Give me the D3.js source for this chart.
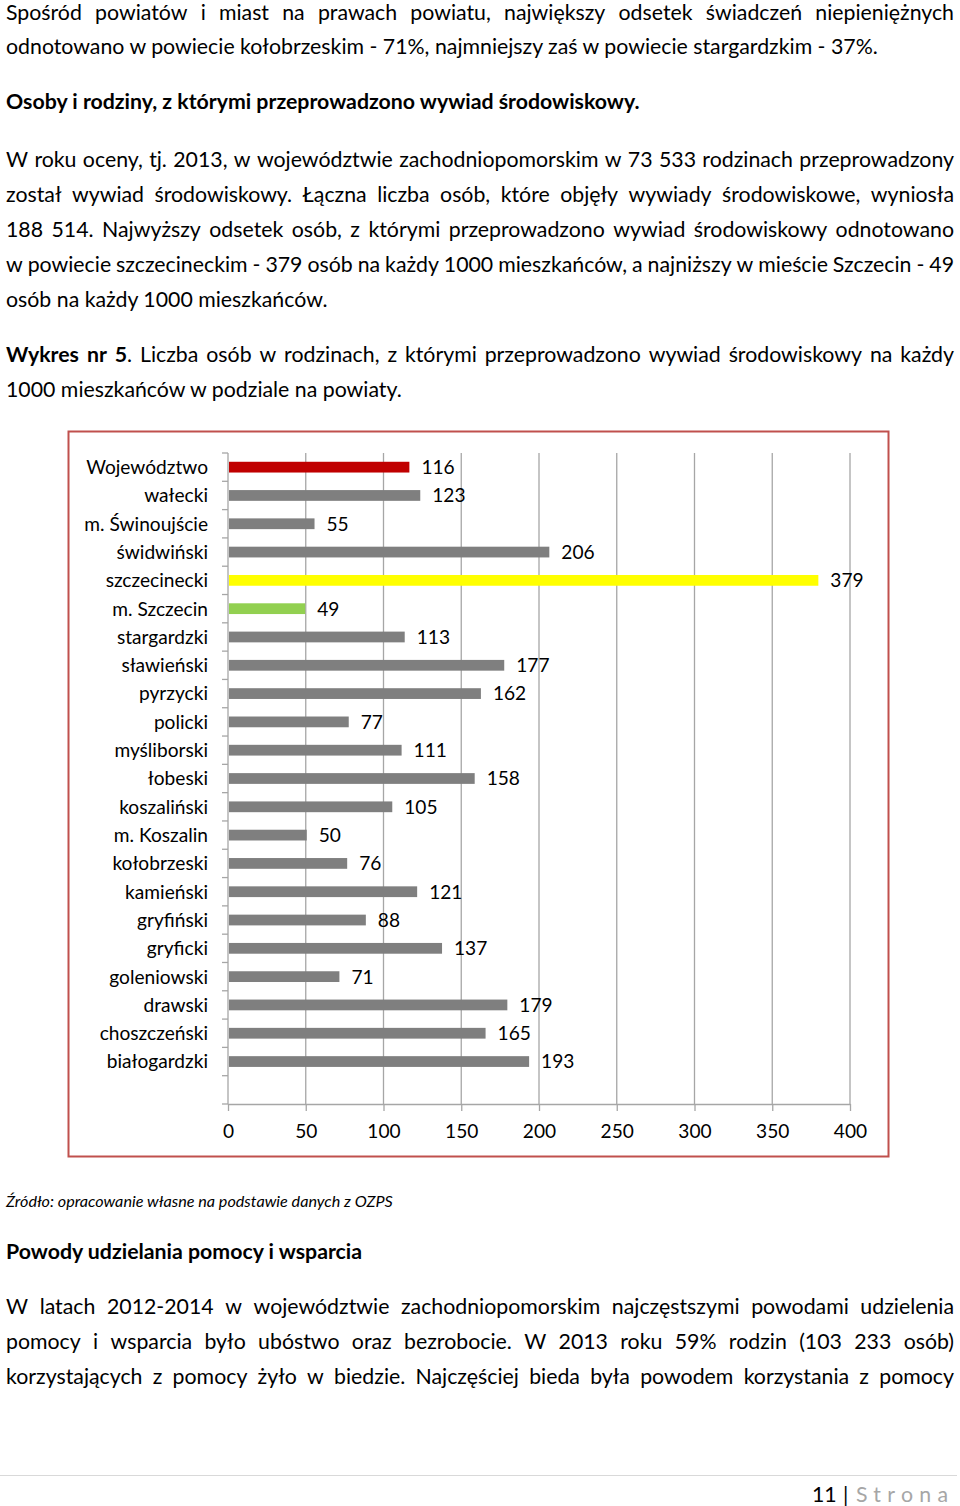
<!DOCTYPE html>
<html><head><meta charset="utf-8">
<script src="https://cdn.jsdelivr.net/npm/d3@7"></script>
<style>html,body{margin:0;padding:0;background:#fff}svg{display:block}</style>
</head><body>
<script>
// ---------- chart data ----------
const categories = ["Województwo","wałecki","m. Świnoujście","świdwiński","szczecinecki","m. Szczecin","stargardzki","sławieński","pyrzycki","policki","myśliborski","łobeski","koszaliński","m. Koszalin","kołobrzeski","kamieński","gryfiński","gryficki","goleniowski","drawski","choszczeński","białogardzki"];
const values = [116,123,55,206,379,49,113,177,162,77,111,158,105,50,76,121,88,137,71,179,165,193];
const xTicks = [0,50,100,150,200,250,300,350,400];

// ---------- styles ----------
const highlight = {"Województwo":"#c00000","szczecinecki":"#ffff00","m. Szczecin":"#92d050"};
const barGray = "#7f7f7f";
const FONT = "Lato, 'Open Sans', sans-serif";

// ---------- page text ----------
const page = [
  {y:20,   j:true,  runs:[{t:"Spośród powiatów i miast na prawach powiatu, największy odsetek świadczeń niepieniężnych"}]},
  {y:53.5, j:false, runs:[{t:"odnotowano w powiecie kołobrzeskim - 71%, najmniejszy zaś w powiecie stargardzkim - 37%."}]},
  {y:108.5,j:false, runs:[{t:"Osoby i rodziny, z którymi przeprowadzono wywiad środowiskowy.",b:true}]},
  {y:166.5,j:true,  runs:[{t:"W roku oceny, tj. 2013, w województwie zachodniopomorskim w 73 533 rodzinach przeprowadzony"}]},
  {y:201.5,j:true,  runs:[{t:"został wywiad środowiskowy. Łączna liczba osób, które objęły wywiady środowiskowe, wyniosła"}]},
  {y:236.5,j:true,  runs:[{t:"188 514. Najwyższy odsetek osób, z którymi przeprowadzono wywiad środowiskowy odnotowano"}]},
  {y:271.5,j:true,  runs:[{t:"w powiecie szczecineckim - 379 osób na każdy 1000 mieszkańców, a najniższy w mieście Szczecin - 49"}]},
  {y:306.5,j:false, runs:[{t:"osób na każdy 1000 mieszkańców."}]},
  {y:361.5,j:true,  runs:[{t:"Wykres nr 5",b:true},{t:". Liczba osób w rodzinach, z którymi przeprowadzono wywiad środowiskowy na każdy"}]},
  {y:396.5,j:false, runs:[{t:"1000 mieszkańców w podziale na powiaty."}]},
  {y:1258.5,j:false,runs:[{t:"Powody udzielania pomocy i wsparcia",b:true}]},
  {y:1313.5,j:true, runs:[{t:"W latach 2012-2014 w województwie zachodniopomorskim najczęstszymi powodami udzielenia"}]},
  {y:1348.5,j:true, runs:[{t:"pomocy i wsparcia było ubóstwo oraz bezrobocie. W 2013 roku 59% rodzin (103 233 osób)"}]},
  {y:1383.5,j:true, runs:[{t:"korzystających z pomocy żyło w biedzie. Najczęściej bieda była powodem korzystania z pomocy"}]}
];
const sourceText = "Źródło: opracowanie własne na podstawie danych z OZPS";

const svg = d3.select("body").append("svg").attr("width",960).attr("height",1506)
  .attr("font-family",FONT);

function fitSize(str, target, opts={}){
  const t = svg.append("text").attr("font-size",20)
    .attr("font-weight",opts.b?"bold":null).attr("font-style",opts.i?"italic":null).text(str);
  const w = t.node().getComputedTextLength(); t.remove();
  return 20*target/w;
}
const fs = fitSize(page[1].runs[0].t, 872);

function splitWords(runs){
  const words=[]; let cur=[];
  runs.forEach(r=>{
    r.t.split(" ").forEach((p,i)=>{
      if(i>0){ if(cur.length) words.push(cur); cur=[]; }
      if(p.length) cur.push({t:p,b:r.b,i:r.i});
    });
  });
  if(cur.length) words.push(cur);
  return words;
}
function addRuns(t, runs){
  runs.forEach(p=>t.append("tspan").text(p.t)
    .attr("font-weight",p.b?"bold":null).attr("font-style",p.i?"italic":null));
}
function drawLine(line, size, x0=6, x1=954){
  const g = svg.append("g").attr("font-size",size).attr("fill","#000");
  if(!line.j){
    const t = g.append("text").attr("x",x0).attr("y",line.y).attr("xml:space","preserve");
    addRuns(t, line.runs);
    return;
  }
  const words = splitWords(line.runs);
  const els = words.map(w=>{ const t=g.append("text").attr("y",line.y); addRuns(t,w); return t; });
  const widths = els.map(t=>t.node().getComputedTextLength());
  const gap = (x1-x0-d3.sum(widths))/(words.length-1);
  let xp = x0;
  els.forEach((t,i)=>{ t.attr("x",xp); xp += widths[i]+gap; });
}
page.forEach(l=>drawLine(l, fs));

// source line
const sfs = fitSize(sourceText, 387, {i:true});
svg.append("text").attr("x",6).attr("y",1206.5).attr("font-size",sfs)
  .attr("font-style","italic").attr("fill","#000").text(sourceText);

// ---------- chart ----------
const cfs = fitSize("Województwo", 122);
svg.append("rect").attr("x",68.5).attr("y",431.5).attr("width",820).attr("height",725)
  .attr("fill","#fff").attr("stroke","#c0504d").attr("stroke-width",2);

const slots = categories.concat([""]);
const x = d3.scaleLinear().domain([0,400]).range([228,850]);
const y = d3.scaleBand().domain(slots).range([453,1104]).paddingInner(0.62).paddingOuter(0.31);
const step = y.step();
const plotTop = 453, plotBottom = 1104;
const gridColor = "#a6a6a6";

const chart = svg.append("g");
chart.append("g").selectAll("line").data(xTicks.filter(d=>d>0)).join("line")
  .attr("x1",d=>x(d)).attr("x2",d=>x(d)).attr("y1",plotTop).attr("y2",plotBottom)
  .attr("stroke",gridColor).attr("stroke-width",1.3);
chart.append("line").attr("x1",x(0)).attr("x2",x(0)).attr("y1",plotTop).attr("y2",plotBottom)
  .attr("stroke",gridColor).attr("stroke-width",1.3);
chart.append("g").selectAll("line").data(d3.range(slots.length+1)).join("line")
  .attr("x1",x(0)-6).attr("x2",x(0)).attr("y1",i=>plotTop+i*step).attr("y2",i=>plotTop+i*step)
  .attr("stroke",gridColor).attr("stroke-width",1.3);
const xa = chart.append("g").attr("transform",`translate(0,${plotBottom})`)
  .call(d3.axisBottom(x).tickValues(xTicks).tickSize(7).tickSizeOuter(0).tickPadding(34-7-0.71*cfs));
xa.select(".domain").attr("stroke",gridColor).attr("stroke-width",1.3);
xa.selectAll(".tick line").attr("stroke",gridColor).attr("stroke-width",1.3);
xa.selectAll(".tick text").attr("font-size",cfs).attr("font-family",FONT).attr("fill","#000");

chart.append("g").selectAll("rect").data(categories).join("rect")
  .attr("x",x(0)+1).attr("y",c=>y(c)).attr("height",y.bandwidth())
  .attr("width",(c,i)=>x(values[i])-x(0))
  .attr("fill",c=>highlight[c]||barGray);
chart.append("g").selectAll("text").data(categories).join("text")
  .attr("x",(c,i)=>x(values[i])+13).attr("y",c=>y(c)+y.bandwidth()/2).attr("dy","0.36em")
  .attr("font-size",cfs).attr("fill","#000").text((c,i)=>values[i]);
chart.append("g").selectAll("text").data(categories).join("text")
  .attr("x",208).attr("y",c=>y(c)+y.bandwidth()/2).attr("dy","0.36em")
  .attr("text-anchor","end").attr("font-size",cfs).attr("fill","#000").text(c=>c);

// ---------- footer ----------
svg.append("line").attr("x1",0).attr("x2",957).attr("y1",1475.5).attr("y2",1475.5)
  .attr("stroke","#d9d9d9").attr("stroke-width",1);
svg.append("text").attr("x",812).attr("y",1501.5).attr("font-size",fs).attr("fill","#000").text("11");
svg.append("text").attr("x",843).attr("y",1501.5).attr("font-size",fs).attr("fill","#000").text("|");
const st = svg.append("text").attr("x",856).attr("y",1501.5).attr("font-size",fs).attr("fill","#a6a6a6").text("Strona");
const sw = st.node().getComputedTextLength();
st.attr("letter-spacing",(92-sw)/5);
</script>
</body></html>
